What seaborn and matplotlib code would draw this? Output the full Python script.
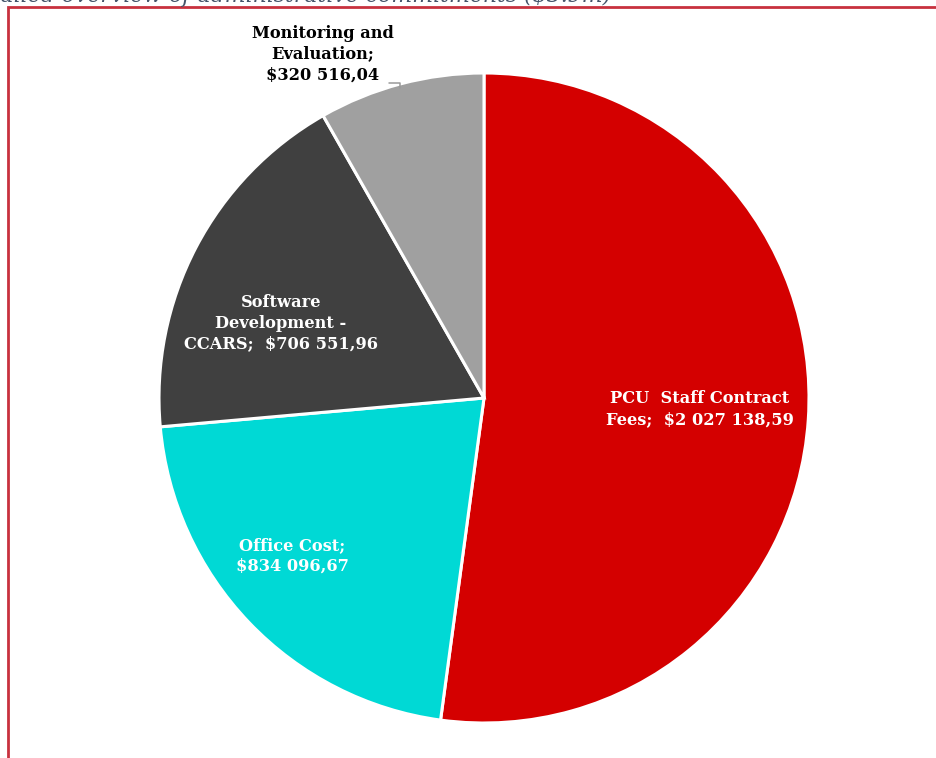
import matplotlib
matplotlib.use("Agg")
import matplotlib.pyplot as plt
from matplotlib.patches import Rectangle
from matplotlib.lines import Line2D
import seaborn as sns

# Administrative commitments by component
categories = ["PCU Staff Contract Fees", "Office Cost", "Software Development - CCARS", "Monitoring and Evaluation"]
amounts = [2027138.59, 834096.67, 706551.96, 320516.04]
label_texts = [
    "PCU  Staff Contract\nFees;  $2 027 138,59",
    "Office Cost;\n$834 096,67",
    "Software\nDevelopment -\nCCARS;  $706 551,96",
    "Monitoring and\nEvaluation;\n$320 516,04",
]
slice_colors = ["#D40000", "#00D9D5", "#404040", "#A0A0A0"]
label_colors = ["white", "white", "white", "black"]
title = "Detailed overview of administrative commitments ($3.9m)"

sns.set_theme(style="white")
palette = sns.color_palette(slice_colors)

W, H, DPI = 936, 758, 100
fig = plt.figure(figsize=(W / DPI, H / DPI), dpi=DPI)
ax = fig.add_axes([0, 0, 1, 1])

# pie geometry in pixels
cx, cy, R = 484, 398, 325

wedges, _ = ax.pie(
    amounts,
    colors=palette,
    startangle=90,
    counterclock=False,
    radius=1.0,
    wedgeprops=dict(edgecolor="white", linewidth=2.2),
)
ax.set_aspect("auto")
ax.set_xlim((0 - cx) / R, (W - cx) / R)
ax.set_ylim((cy - H) / R, cy / R)
ax.axis("off")


def to_data(px, py):
    return (px - cx) / R, (cy - py) / R


label_pos = [(700, 409), (292, 556), (281, 323), (323, 54)]
font = ["DejaVu Serif"]
for txt, (px, py), col in zip(label_texts, label_pos, label_colors):
    x, y = to_data(px, py)
    ax.text(x, y, txt, ha="center", va="center", color=col, fontsize=11.7,
            fontweight="bold", family=font, linespacing=1.3)

# leader line for the outside label
pts = [to_data(389, 83), to_data(400, 83), to_data(400, 88)]
ax.add_line(Line2D([p[0] for p in pts], [p[1] for p in pts],
                   color="#9A9A9A", lw=1.1))

# red frame around the chart area
fig.patches.append(Rectangle((8 / W, -0.1), 1.2, 1 - 6.5 / H + 0.1,
                             transform=fig.transFigure, fill=False,
                             edgecolor="#C8313E", linewidth=2.0))

# section title, partly above the visible area
fig.text(612 / W, 1 - 2 / H, title, ha="right", va="baseline",
         fontsize=15.8, style="italic", family=font, color="#44546A")

fig.savefig("out.png", dpi=DPI)
